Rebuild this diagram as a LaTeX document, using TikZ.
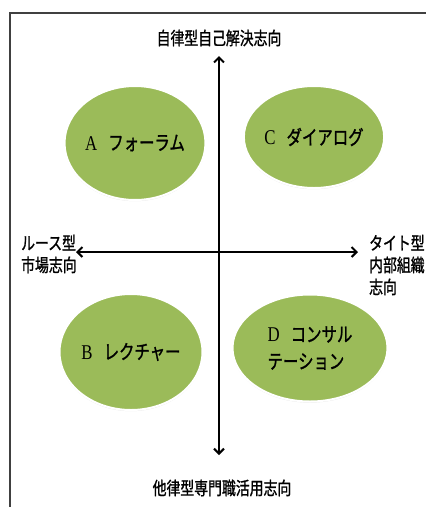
\documentclass[tikz,border=0pt]{standalone}
\usepackage{fontspec}
\newfontfamily\jp[FakeStretch=0.77, FakeBold=1.2]{Noto Sans CJK JP}
\newfontfamily\lat[FakeStretch=0.8]{Liberation Serif}
\usepackage{tikz}
\usetikzlibrary{arrows.meta, shapes.geometric, shadows}
\definecolor{quadGreen}{RGB}{155,187,89}
\definecolor{frameGray}{RGB}{64,64,64}
\tikzset{
    quad/.style={ellipse, fill=quadGreen, draw=white, line width=2pt, inner sep=0pt,
        align=left, font=\jp\fontsize{20}{27}\selectfont,
        drop shadow={shadow xshift=0pt, shadow yshift=-1.2pt, opacity=0.2}},
    axis/.style={line width=2pt, {Straight Barb[length=5pt,width=10pt]}-{Straight Barb[length=5pt,width=10pt]}},
    axislabel/.style={inner sep=0pt, align=left}
}

\begin{document}
\begin{tikzpicture}[x=1pt, y=-1pt, font=\jp\fontsize{18}{22}\selectfont]
    \useasboundingbox (0,0) rectangle (426,507);
    % frame (cropped)
    \draw[frameGray, line width=1.2pt] (10,507) -- (10,13) -- (426,13);
    % quadrants
    \foreach \x/\y/\w/\h/\name/\txt in {
        135/143/138/114/quadA/{{\lat\fontsize{21}{27}\selectfont A}\hskip11pt フォーラム},
        314/137/140/102/quadC/{{\lat\fontsize{21}{27}\selectfont C}\hskip11pt ダイアログ},
        131/352/143/116/quadB/{{\lat\fontsize{21}{27}\selectfont B}\hskip11pt レクチャー},
        310/348/155/107/quadD/{{\lat\fontsize{21}{27}\selectfont D}\hskip11pt コンサル\\テーション}} {
        \node[quad, minimum width=\w pt, minimum height=\h pt] (\name) at (\x,\y) {\txt};
    }
    % axes
    \coordinate (north) at (219,56);
    \coordinate (south) at (219,455);
    \coordinate (west) at (76,252);
    \coordinate (east) at (358,252);
    \draw[axis] (south) -- (north);
    \draw[axis] (west) -- (east);
    % axis labels
    \node[axislabel] (topLabel) at (219,38) {自律型自己解決志向};
    \node[axislabel] (bottomLabel) at (222,488) {他律型専門職活用志向};
    \node[axislabel, anchor=west] (leftLabel) at (21,254) {ルース型\\市場志向};
    \node[axislabel, anchor=west] (rightLabel) at (369,265) {タイト型\\内部組織\\志向};
\end{tikzpicture}
\end{document}
